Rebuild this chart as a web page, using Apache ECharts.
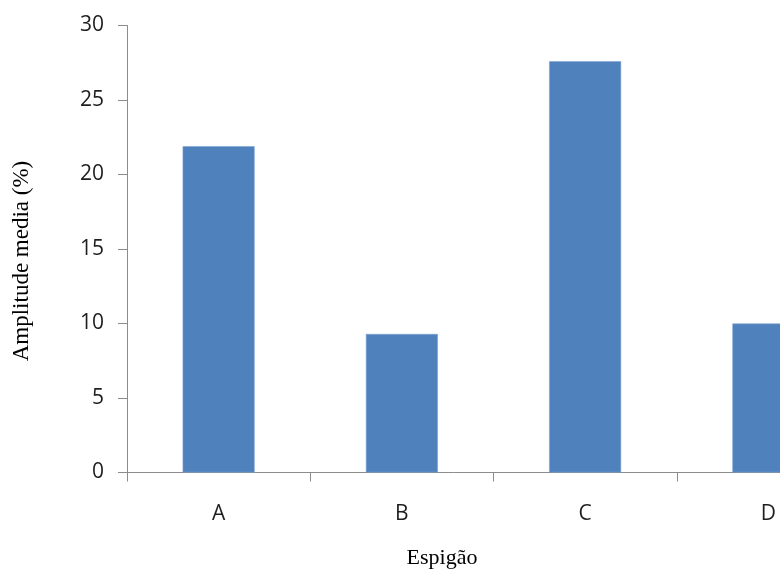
<!DOCTYPE html>
<html>
<head>
<meta charset="utf-8">
<script src="https://cdn.jsdelivr.net/npm/echarts@6/dist/echarts.min.js"></script>
<style>
  html, body { margin: 0; padding: 0; background: #fff; }
  #chart { width: 780px; height: 572px; }
</style>
</head>
<body>
<div id="chart"></div>
<script>
// Amplitude média por espigão
const categories = ['A', 'B', 'C', 'D'];
const amplitude = [21.9, 9.3, 27.6, 10.0];
const yTicks = { min: 0, max: 30, interval: 5 };

const axisGray = '#8c8c8c';
const sansFont = '"Open Sans", "Noto Sans", sans-serif';

const chart = echarts.init(document.getElementById('chart'), null, { renderer: 'canvas' });
chart.setOption({
  animation: false,
  backgroundColor: '#ffffff',
  // the plot runs past the right edge of the page, so the last category is cut
  grid: {
    left: 127, width: 733, top: 25.5, height: 447,
    containLabel: false,
    outerBoundsMode: 'none'
  },
  xAxis: {
    type: 'category',
    data: categories,
    axisLine: { lineStyle: { color: axisGray, width: 1 } },
    axisTick: { show: true, length: 9, lineStyle: { color: axisGray } },
    axisLabel: { color: '#1e1e1e', fontFamily: sansFont, fontSize: 21, margin: 31 }
  },
  yAxis: {
    type: 'value',
    min: yTicks.min,
    max: yTicks.max,
    interval: yTicks.interval,
    axisLine: { show: true, lineStyle: { color: axisGray, width: 1 } },
    axisTick: { show: true, length: 9, lineStyle: { color: axisGray } },
    splitLine: { show: false },
    axisLabel: { color: '#1e1e1e', fontFamily: sansFont, fontSize: 21, margin: 23 }
  },
  graphic: [
    {
      type: 'text',
      x: 22,
      y: 261,
      rotation: Math.PI / 2,
      style: {
        text: 'Amplitude media (%)',
        fill: '#000',
        font: '23px "Liberation Serif", "DejaVu Serif", serif',
        align: 'center',
        verticalAlign: 'middle'
      }
    },
    {
      type: 'text',
      x: 442,
      y: 558,
      style: {
        text: 'Espigão',
        fill: '#000',
        font: '22px "Liberation Serif", "DejaVu Serif", serif',
        align: 'center',
        verticalAlign: 'middle'
      }
    }
  ],
  series: [{
    type: 'bar',
    data: amplitude,
    barWidth: 72,
    itemStyle: { color: '#4f81bd', borderColor: '#7ea3d1', borderWidth: 0.6 }
  }]
});
</script>
</body>
</html>
